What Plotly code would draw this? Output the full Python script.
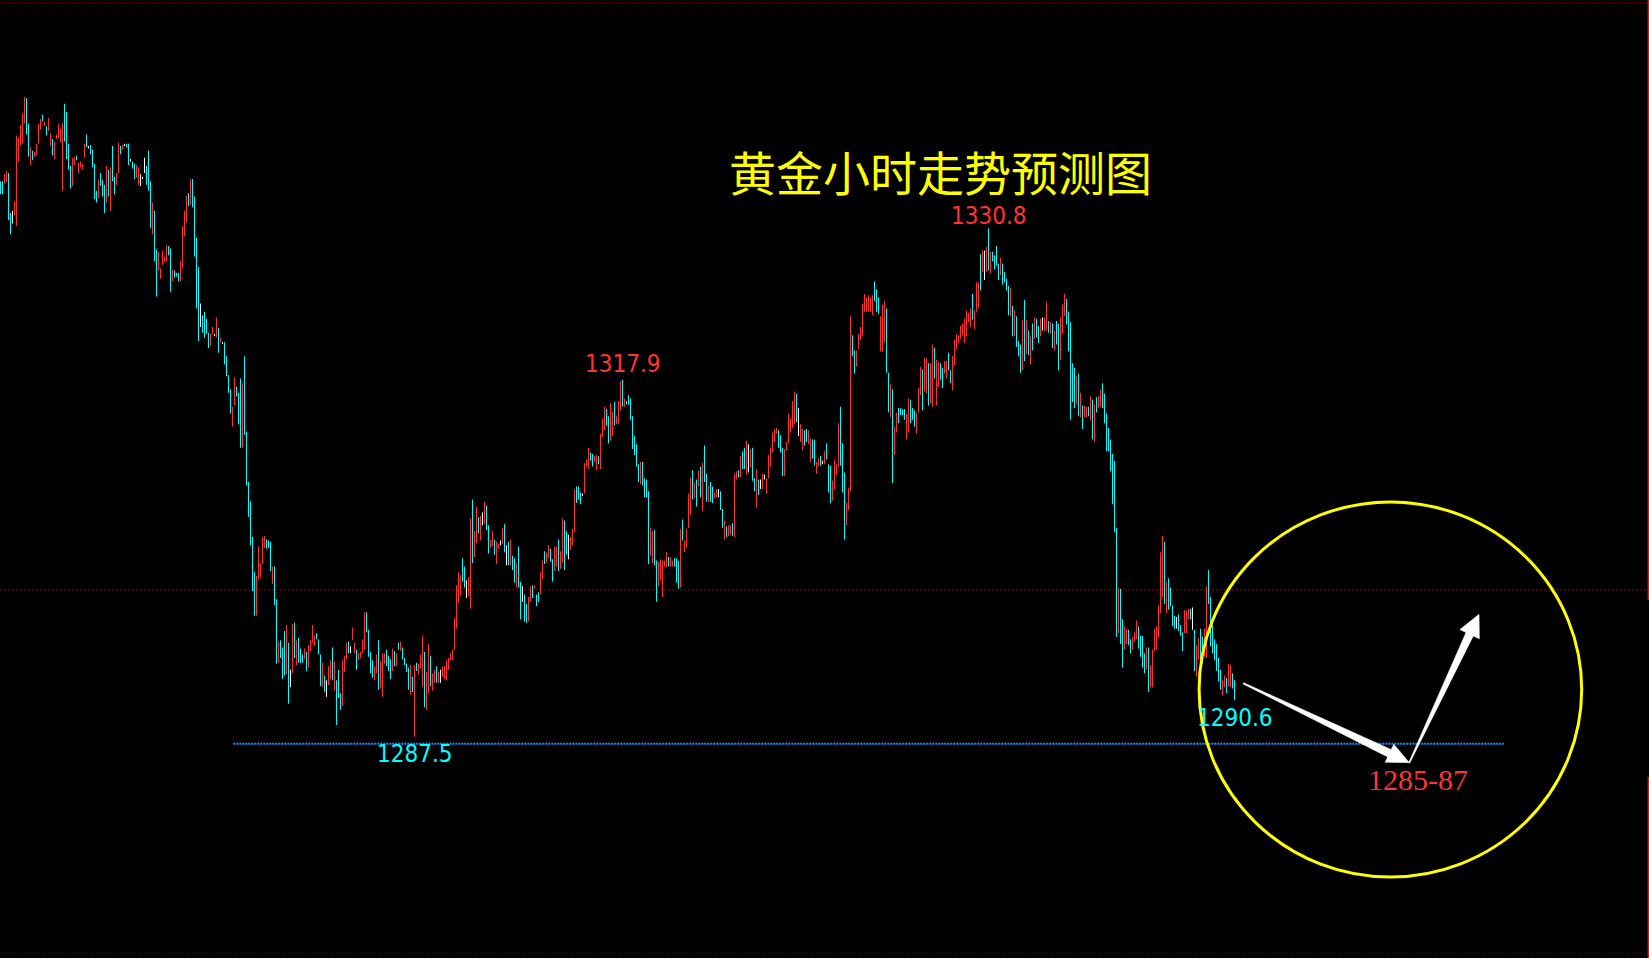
import plotly.graph_objects as go

# ---------------- data (gold, hourly bars; high / low / direction) ----------------
highs = [
    1334.8, 1334.8, 1335.4, 1335.7, 1335.5, 1332.1, 1332.3, 1333.1, 1338.7, 1338.5,
    1339.6, 1340.6, 1342.0, 1341.9, 1339.7, 1337.7, 1337.4, 1337.3, 1338.0, 1339.7,
    1340.1, 1340.5, 1339.9, 1339.5, 1340.2, 1338.9, 1338.4, 1338.2, 1338.8, 1339.7,
    1339.3, 1339.8, 1341.4, 1340.7, 1338.0, 1336.1, 1336.8, 1336.9, 1337.0, 1336.4,
    1336.5, 1336.3, 1338.0, 1338.8, 1337.8, 1337.9, 1337.5, 1336.3, 1334.0, 1335.0,
    1335.5, 1334.9, 1334.5, 1336.1, 1335.8, 1336.0, 1337.8, 1335.2, 1335.5, 1338.1,
    1337.8, 1337.9, 1338.0, 1338.0, 1338.0, 1336.7, 1336.5, 1336.3, 1336.2, 1336.0,
    1335.4, 1335.2, 1336.8, 1336.1, 1337.4, 1334.8, 1333.0, 1332.3, 1329.0, 1328.8,
    1327.4, 1328.9, 1328.4, 1329.4, 1329.3, 1329.1, 1327.3, 1327.2, 1327.0, 1327.0,
    1328.0, 1331.0, 1332.3, 1333.6, 1333.8, 1335.0, 1335.0, 1333.5, 1330.0, 1327.5,
    1324.4, 1323.4, 1323.7, 1323.1, 1321.9, 1321.8, 1322.4, 1321.8, 1323.2, 1322.3,
    1321.5, 1321.1, 1321.1, 1319.9, 1318.3, 1317.1, 1315.6, 1318.1, 1317.3, 1316.8,
    1318.0, 1317.6, 1319.9, 1313.5, 1309.2, 1307.5, 1304.5, 1301.5, 1301.2, 1303.7,
    1302.3, 1304.5, 1304.6, 1304.3, 1304.2, 1304.1, 1302.0, 1302.0, 1299.2, 1295.6,
    1295.7, 1295.1, 1296.5, 1297.0, 1295.5, 1293.2, 1297.1, 1297.2, 1295.7, 1295.9,
    1295.0, 1294.5, 1295.0, 1294.7, 1295.3, 1295.7, 1297.0, 1296.1, 1296.3, 1295.8,
    1294.5, 1293.8, 1292.7, 1292.3, 1293.5, 1294.0, 1295.1, 1293.9, 1292.3, 1293.2,
    1291.2, 1294.0, 1294.4, 1295.5, 1295.6, 1295.2, 1296.8, 1295.5, 1294.9, 1294.6,
    1294.7, 1295.8, 1298.1, 1298.1, 1296.6, 1294.7, 1294.0, 1293.5, 1294.5, 1295.7,
    1293.9, 1294.6, 1294.6, 1294.9, 1294.4, 1294.1, 1295.0, 1294.8, 1294.6, 1295.5,
    1295.6, 1295.1, 1294.2, 1293.7, 1293.4, 1293.6, 1292.6, 1293.6, 1293.8, 1293.7,
    1294.5, 1296.1, 1294.7, 1293.0, 1295.4, 1294.4, 1292.9, 1293.2, 1293.5, 1293.0,
    1293.2, 1293.5, 1293.5, 1294.0, 1294.2, 1294.6, 1294.9, 1297.6, 1300.4, 1301.5,
    1301.3, 1302.7, 1302.0, 1300.8, 1301.1, 1306.1, 1307.7, 1305.0, 1307.1, 1306.2,
    1306.3, 1306.6, 1307.5, 1307.2, 1305.5, 1304.3, 1305.0, 1304.3, 1304.1, 1303.9,
    1304.2, 1305.3, 1305.6, 1303.8, 1304.1, 1304.3, 1302.9, 1302.7, 1302.3, 1303.7,
    1300.7, 1300.3, 1299.6, 1298.8, 1299.4, 1300.3, 1300.4, 1300.4, 1299.6, 1299.8,
    1301.5, 1302.5, 1303.3, 1303.2, 1303.8, 1303.5, 1302.6, 1303.7, 1303.7, 1304.3,
    1303.3, 1306.1, 1305.9, 1305.0, 1304.7, 1304.5, 1305.2, 1308.6, 1308.8, 1308.8,
    1308.3, 1308.2, 1310.8, 1311.1, 1312.1, 1311.7, 1311.6, 1311.4, 1311.5, 1311.4,
    1313.3, 1314.6, 1315.6, 1315.4, 1314.8, 1315.9, 1315.2, 1316.0, 1314.8, 1316.1,
    1317.8, 1317.9, 1316.3, 1316.1, 1316.6, 1316.3, 1314.8, 1313.1, 1312.4, 1310.7,
    1310.9, 1310.9, 1309.5, 1309.4, 1308.4, 1305.3, 1305.0, 1305.1, 1302.5, 1302.4,
    1302.6, 1302.5, 1302.5, 1303.2, 1302.8, 1302.8, 1302.5, 1302.7, 1302.7, 1302.5,
    1305.2, 1306.0, 1304.2, 1305.2, 1308.2, 1309.6, 1310.2, 1309.1, 1309.4, 1310.2,
    1310.5, 1310.8, 1312.3, 1309.9, 1308.9, 1309.2, 1308.8, 1308.3, 1308.6, 1308.6,
    1308.4, 1306.9, 1305.9, 1305.4, 1305.5, 1305.5, 1305.7, 1309.9, 1310.1, 1310.2,
    1311.4, 1311.8, 1312.1, 1312.7, 1312.4, 1312.0, 1312.1, 1309.5, 1310.3, 1309.4,
    1309.4, 1309.9, 1309.8, 1309.5, 1311.5, 1312.1, 1313.4, 1313.7, 1313.8, 1313.6,
    1313.2, 1312.1, 1312.0, 1312.6, 1315.0, 1314.6, 1316.1, 1316.9, 1316.7, 1315.5,
    1314.1, 1313.7, 1313.6, 1313.7, 1313.6, 1312.9, 1312.8, 1312.8, 1310.9, 1311.2,
    1311.4, 1311.0, 1311.8, 1312.5, 1310.7, 1310.6, 1309.3, 1311.1, 1310.7, 1314.2,
    1315.6, 1312.5, 1310.0, 1307.4, 1308.7, 1323.3, 1321.7, 1320.4, 1320.4, 1321.8,
    1322.4, 1324.4, 1325.2, 1324.9, 1325.1, 1324.9, 1325.1, 1326.3, 1325.6, 1324.9,
    1323.3, 1324.3, 1324.6, 1324.0, 1318.5, 1317.5, 1317.1, 1313.9, 1315.1, 1315.5,
    1315.5, 1315.4, 1315.4, 1315.0, 1316.3, 1316.2, 1315.5, 1315.3, 1315.1, 1317.2,
    1319.0, 1318.8, 1319.8, 1319.7, 1319.3, 1319.3, 1320.9, 1320.6, 1319.6, 1319.4,
    1319.3, 1318.9, 1319.5, 1319.5, 1320.2, 1318.7, 1319.9, 1321.3, 1321.8, 1321.7,
    1322.5, 1322.7, 1323.1, 1323.8, 1323.6, 1324.0, 1325.2, 1323.8, 1326.2, 1326.2,
    1328.6, 1328.9, 1328.9, 1329.2, 1330.8, 1328.8, 1328.8, 1328.5, 1329.3, 1327.8,
    1328.3, 1327.8, 1327.1, 1326.5, 1325.9, 1325.7, 1324.2, 1323.8, 1323.3, 1321.2,
    1320.9, 1323.0, 1324.7, 1323.0, 1322.1, 1321.6, 1322.7, 1323.2, 1323.1, 1322.5,
    1323.1, 1323.2, 1323.2, 1324.5, 1322.9, 1322.8, 1322.7, 1322.1, 1322.9, 1322.7,
    1323.2, 1324.3, 1325.2, 1324.8, 1323.7, 1322.8, 1319.3, 1318.9, 1318.2, 1318.4,
    1316.8, 1315.7, 1315.7, 1315.6, 1315.6, 1316.5, 1316.2, 1315.8, 1316.4, 1316.5,
    1317.1, 1317.6, 1316.7, 1315.0, 1313.8, 1312.8, 1311.6, 1311.0, 1305.3, 1300.2,
    1300.1, 1297.5, 1296.9, 1296.7, 1296.6, 1295.8, 1296.0, 1296.4, 1297.4, 1296.9,
    1296.1, 1296.1, 1294.6, 1295.1, 1295.1, 1293.6, 1294.9, 1296.7, 1296.9, 1298.7,
    1303.2, 1304.6, 1304.1, 1300.7, 1301.0, 1300.2, 1298.7, 1297.8, 1297.7, 1297.9,
    1297.0, 1296.4, 1298.3, 1298.2, 1298.4, 1298.4, 1298.5, 1296.6, 1295.3, 1295.9,
    1296.7, 1296.0, 1296.7, 1300.3, 1301.7, 1299.4, 1297.0, 1295.8, 1295.4, 1294.2,
    1293.2, 1292.3, 1292.7, 1292.5, 1293.7, 1293.6, 1292.9, 1292.3,
]

lows = [
    1333.7, 1333.7, 1334.6, 1334.7, 1331.5, 1330.3, 1331.2, 1331.9, 1331.0, 1336.5,
    1337.8, 1338.0, 1339.7, 1338.8, 1336.9, 1336.2, 1336.6, 1336.9, 1337.0, 1338.0,
    1339.2, 1339.9, 1339.5, 1338.7, 1339.1, 1337.8, 1337.0, 1336.7, 1338.4, 1338.5,
    1338.1, 1334.0, 1338.2, 1336.7, 1335.8, 1334.2, 1334.4, 1336.2, 1336.6, 1335.5,
    1336.0, 1335.8, 1336.8, 1337.7, 1337.6, 1337.1, 1336.0, 1333.3, 1333.0, 1333.4,
    1334.4, 1333.5, 1332.1, 1333.0, 1333.5, 1332.3, 1334.8, 1333.7, 1334.5, 1335.5,
    1337.1, 1337.5, 1337.8, 1337.7, 1336.2, 1336.5, 1335.9, 1335.0, 1335.1, 1334.5,
    1334.4, 1335.0, 1335.5, 1334.5, 1334.0, 1330.8, 1330.3, 1328.0, 1325.0, 1327.2,
    1326.5, 1327.7, 1327.9, 1328.0, 1328.5, 1325.4, 1326.3, 1326.6, 1326.7, 1326.3,
    1326.3, 1327.4, 1330.1, 1331.3, 1332.7, 1332.8, 1332.6, 1328.4, 1324.0, 1321.2,
    1322.4, 1321.9, 1321.5, 1321.8, 1320.6, 1320.8, 1321.8, 1321.6, 1321.5, 1320.2,
    1321.1, 1321.0, 1319.2, 1318.2, 1316.8, 1315.0, 1313.9, 1315.7, 1316.5, 1314.1,
    1312.1, 1312.1, 1313.2, 1308.9, 1306.2, 1303.8, 1299.9, 1297.8, 1297.8, 1300.9,
    1301.1, 1302.2, 1303.6, 1303.5, 1303.6, 1301.6, 1300.5, 1298.7, 1293.7, 1293.8,
    1294.2, 1292.4, 1292.7, 1292.8, 1290.3, 1291.7, 1292.9, 1294.2, 1293.6, 1293.8,
    1293.8, 1293.8, 1294.1, 1293.1, 1293.4, 1294.8, 1295.5, 1295.2, 1295.8, 1294.5,
    1291.8, 1291.7, 1291.3, 1290.9, 1291.9, 1292.4, 1292.3, 1291.4, 1288.5, 1290.8,
    1289.8, 1290.1, 1293.0, 1294.1, 1294.6, 1294.6, 1295.7, 1294.6, 1293.2, 1294.0,
    1294.2, 1294.6, 1294.9, 1296.4, 1294.3, 1292.9, 1292.5, 1292.3, 1292.9, 1291.5,
    1291.6, 1290.9, 1293.7, 1293.5, 1293.1, 1292.4, 1293.1, 1293.5, 1293.5, 1294.9,
    1294.8, 1294.1, 1293.6, 1293.0, 1291.5, 1291.1, 1291.3, 1287.5, 1293.1, 1292.8,
    1293.3, 1291.7, 1290.0, 1289.8, 1291.2, 1291.8, 1291.4, 1292.1, 1292.1, 1292.1,
    1292.1, 1292.6, 1292.4, 1292.3, 1293.2, 1294.0, 1294.0, 1294.9, 1296.7, 1298.9,
    1299.5, 1300.7, 1300.2, 1299.3, 1299.5, 1298.4, 1302.3, 1302.8, 1304.0, 1304.8,
    1304.2, 1305.5, 1305.6, 1305.1, 1303.1, 1303.6, 1303.7, 1303.0, 1302.2, 1303.5,
    1303.8, 1303.9, 1303.2, 1302.1, 1302.1, 1302.1, 1301.7, 1300.6, 1300.2, 1300.2,
    1297.5, 1299.0, 1297.3, 1297.2, 1297.3, 1299.0, 1299.3, 1300.1, 1298.6, 1299.0,
    1299.6, 1300.9, 1302.2, 1302.3, 1302.7, 1302.4, 1300.7, 1301.6, 1302.0, 1301.6,
    1301.8, 1302.3, 1301.7, 1303.0, 1302.6, 1303.4, 1303.8, 1304.9, 1307.4, 1307.7,
    1307.3, 1308.0, 1308.2, 1310.5, 1310.3, 1311.0, 1310.5, 1310.9, 1310.2, 1310.7,
    1310.3, 1313.0, 1313.6, 1314.0, 1312.5, 1312.7, 1313.1, 1314.0, 1314.1, 1314.1,
    1315.3, 1315.6, 1315.6, 1315.8, 1315.8, 1314.5, 1312.0, 1311.5, 1310.5, 1309.2,
    1309.0, 1308.9, 1307.9, 1307.9, 1302.2, 1302.9, 1302.3, 1302.1, 1299.0, 1300.3,
    1300.8, 1299.4, 1302.0, 1301.9, 1302.0, 1302.0, 1302.0, 1302.0, 1300.6, 1300.1,
    1300.2, 1304.2, 1303.2, 1303.6, 1305.3, 1306.4, 1307.7, 1307.8, 1307.1, 1308.8,
    1307.9, 1306.7, 1309.2, 1307.5, 1307.5, 1307.5, 1307.4, 1307.8, 1307.9, 1307.9,
    1306.8, 1305.3, 1304.3, 1304.5, 1304.6, 1304.7, 1304.6, 1304.5, 1309.4, 1309.6,
    1309.6, 1310.3, 1310.3, 1309.8, 1310.0, 1310.4, 1309.3, 1308.4, 1307.0, 1308.1,
    1308.6, 1308.6, 1309.4, 1308.2, 1309.5, 1310.5, 1311.7, 1312.6, 1313.3, 1312.1,
    1311.7, 1309.7, 1309.7, 1311.9, 1312.5, 1313.4, 1313.8, 1314.1, 1314.3, 1313.1,
    1312.6, 1311.9, 1312.3, 1312.6, 1312.4, 1310.9, 1311.2, 1310.6, 1309.9, 1310.5,
    1310.6, 1310.7, 1310.7, 1311.1, 1308.3, 1307.4, 1307.6, 1308.6, 1309.8, 1310.5,
    1310.6, 1308.3, 1304.3, 1305.5, 1306.8, 1308.4, 1319.9, 1318.4, 1319.0, 1320.5,
    1321.3, 1321.6, 1323.7, 1323.7, 1323.7, 1323.7, 1323.4, 1324.6, 1323.7, 1323.5,
    1320.3, 1320.3, 1321.1, 1318.5, 1315.1, 1314.7, 1309.1, 1311.5, 1313.4, 1314.2,
    1314.9, 1314.9, 1314.5, 1312.8, 1313.4, 1314.2, 1314.5, 1313.9, 1313.3, 1315.1,
    1316.6, 1315.3, 1316.9, 1316.7, 1315.7, 1315.9, 1315.6, 1318.0, 1315.7, 1317.3,
    1317.9, 1317.2, 1318.4, 1318.0, 1318.7, 1317.6, 1317.0, 1319.1, 1320.5, 1321.0,
    1321.4, 1321.7, 1321.0, 1321.6, 1322.8, 1322.4, 1323.0, 1322.2, 1323.7, 1324.0,
    1325.5, 1327.1, 1326.4, 1327.1, 1327.2, 1327.0, 1328.0, 1327.3, 1327.6, 1326.4,
    1326.8, 1326.0, 1326.2, 1325.5, 1323.4, 1323.3, 1321.6, 1321.6, 1320.7, 1319.9,
    1318.5, 1318.7, 1319.5, 1320.1, 1320.0, 1319.2, 1320.4, 1321.4, 1321.5, 1321.0,
    1321.6, 1322.1, 1322.0, 1322.1, 1321.9, 1321.8, 1320.6, 1320.4, 1320.9, 1318.7,
    1319.6, 1321.8, 1323.3, 1322.6, 1320.3, 1314.5, 1316.0, 1315.5, 1315.8, 1314.8,
    1314.7, 1313.7, 1314.7, 1314.7, 1314.8, 1314.4, 1312.8, 1312.6, 1315.1, 1315.5,
    1315.6, 1315.5, 1314.2, 1311.8, 1311.8, 1310.1, 1307.3, 1304.9, 1296.0, 1296.3,
    1295.4, 1293.4, 1294.9, 1295.4, 1295.3, 1294.6, 1294.9, 1295.6, 1295.8, 1295.0,
    1294.3, 1293.4, 1292.9, 1293.2, 1291.3, 1291.7, 1291.7, 1294.8, 1294.9, 1295.9,
    1298.0, 1299.4, 1298.8, 1298.0, 1298.3, 1298.6, 1296.9, 1296.7, 1296.7, 1296.5,
    1296.1, 1294.8, 1296.3, 1296.3, 1297.5, 1297.5, 1296.6, 1293.1, 1292.6, 1294.1,
    1294.1, 1293.7, 1294.3, 1294.2, 1298.8, 1295.2, 1294.6, 1294.0, 1293.1, 1292.2,
    1291.5, 1291.0, 1291.7, 1291.2, 1291.8, 1291.7, 1291.6, 1290.6,
]

# r = up bar (red), c = down bar (cyan), w = unchanged (white); 10 bars per chunk
direction_chunks = [
    "ccrrccwrrr", "rrrccrcrrr", "rcrcrrcrrr", "rrccccrrcr", "rrrcwccccr",
    "cccrcrccrr", "crwccwccrr", "wwwcccrccr", "rrrrccrccc", "rrrrcrcccc",
    "wccccrrwrc", "rwccccrrcc", "crccccccrr", "rrrcccrccr", "cccrcwrcrc",
    "ccrcrrrrcc", "crcwrrcrcc", "crrrcwrrcr", "rrrccccrrc", "rrrcccrcrc",
    "rccccrcrcr", "rrcrrcrrcr", "wrrrrrrrrr", "rccwrrcrrc", "rwrccrrcrr",
    "wrcwcrccrc", "cwccrrcrcc", "rrcrrccrrc", "rrccwrrrcc", "cwrrrccrrc",
    "rrrccrrcrr", "rcrccccccc", "rccccrrccr", "rrrrcrrccc", "rcrrrrcrcr",
    "crccrccrrw", "ccrcrrcrrc", "rccrwrccrc", "wrwrrrrrrc", "ccrrrrrrcw",
    "rrccrrccrr", "cwrcccrrrr", "cccrrrccrr", "rrrrrrrccc", "rrrccrcrrc",
    "cccrrcccrr", "rcrrcrrcrr", "ccrrccrrrr", "rrrrrrcrrr", "crwrcrcccc",
    "rccccrcrcc", "crcrcrcrcc", "rwrrcrcrcc", "rrrcccccrc", "rcrrcrcrcr",
    "rccccccccr", "ccrrccrrrc", "cccrcrrrrr", "rrcrccccwc", "ccrrrcwcrr",
    "ccrrcccccc", "crrcrrcc",
]
directions = "".join(direction_chunks)

# bars that carry a price label
peak_idx = 494      # 1330.8
mid_peak_idx = 311  # 1317.9
low_idx = 207       # 1287.5
last_idx = 617      # 1290.6

labels_red = "#ff3333"
labels_cyan = "#00ffff"
bar_colors = {"r": "#ff3030", "c": "#00ffff", "w": "#ffffff"}

title_text = "黄金小时走势预测图"
target_text = "1285-87"
support_level = 1286.9

# ---------------- geometry of the canvas ----------------
W, H = 1649, 958
X_RANGE = [-0.25, 824.25]
Y_RANGE = [1268.645, 1350.246]


def pxx(v):
    return v / W


def pxy(v):
    return 1 - v / H


n = len(highs)
assert len(lows) == n and len(directions) == n, (len(highs), len(lows), len(directions))
idx = list(range(n))

fig = go.Figure()
fig.add_trace(go.Bar(
    x=idx,
    y=[round(h - l, 2) for h, l in zip(highs, lows)],
    base=lows,
    width=0.5,
    marker=dict(color=[bar_colors[d] for d in directions], line=dict(width=0)),
    hoverinfo="skip",
))

shapes = []
# grid levels (dark red dashed)
for lvl in (1300, 1350):
    shapes.append(dict(type="line", xref="paper", yref="y", x0=0, x1=0.9988, y0=lvl, y1=lvl,
                       line=dict(color="#a00000", width=1, dash="2px,2px"), layer="below"))
# bottom border dotted
shapes.append(dict(type="line", xref="paper", yref="paper", x0=0, x1=1, y0=pxy(953.3), y1=pxy(953.3),
                   line=dict(color="#a00000", width=1, dash="1px,2px")))
# right border
for a, b in ((0, 600), (777, 958)):
    shapes.append(dict(type="line", xref="paper", yref="paper", x0=pxx(1648.3), x1=pxx(1648.3),
                       y0=pxy(a), y1=pxy(b), line=dict(color="#d01818", width=1.5)))
# support line (blue dotted)
shapes.append(dict(type="line", xref="x", yref="y", x0=116.4, x1=751.75, y0=support_level, y1=support_level,
                   line=dict(color="#1e90ff", width=2, dash="2px,1px")))
# yellow circle
shapes.append(dict(type="circle", xref="paper", yref="paper",
                   x0=pxx(1390.4 - 191.3), x1=pxx(1390.4 + 191.3),
                   y0=pxy(689.5 + 187.5), y1=pxy(689.5 - 187.5),
                   line=dict(color="#ffff00", width=3)))


def poly(points):
    s = "M " + " L ".join(f"{pxx(x):.5f},{pxy(y):.5f}" for x, y in points) + " Z"
    return dict(type="path", xref="paper", yref="paper", path=s,
                fillcolor="#ffffff", line=dict(color="#ffffff", width=0.5))


arrow_down = [(1243.0, 683.9), (1387.7, 756.9), (1385.1, 762.2), (1409.3, 762.7),
              (1393.8, 744.2), (1391.2, 749.6), (1243.6, 682.7)]
arrow_up = [(1409.8, 763.0), (1473.3, 635.9), (1479.4, 638.8), (1479.0, 614.3),
            (1459.9, 629.6), (1466.0, 632.5), (1408.8, 762.4)]
shapes.append(poly(arrow_down))
shapes.append(poly(arrow_up))

num_font = "DejaVu Sans Condensed, Liberation Sans, sans-serif"


def price_label(i, value, shift, color):
    return dict(x=i, y=value, text=f"{value:.1f}", showarrow=False, yshift=shift,
                xanchor="center", yanchor="middle",
                font=dict(family=num_font, size=24, color=color))


annotations = [
    dict(xref="paper", yref="paper", x=pxx(940), y=pxy(175.0), text=title_text, showarrow=False,
         xanchor="center", yanchor="middle",
         font=dict(family="Liberation Sans, Noto Sans CJK SC", size=47, color="#ffff00")),
    price_label(peak_idx, highs[peak_idx], 12, labels_red),
    price_label(mid_peak_idx, highs[mid_peak_idx], 16, labels_red),
    price_label(low_idx, lows[low_idx], -17.5, labels_cyan),
    price_label(last_idx, lows[last_idx], -18, labels_cyan),
    dict(xref="paper", yref="paper", x=pxx(1418.3), y=pxy(779.3), text=target_text, showarrow=False,
         xanchor="center", yanchor="middle",
         font=dict(family="Liberation Serif, serif", size=30, color=labels_red)),
]

fig.update_layout(
    width=W, height=H,
    margin=dict(l=0, r=0, t=0, b=0, pad=0),
    paper_bgcolor="#000000", plot_bgcolor="#000000",
    showlegend=False,
    xaxis=dict(visible=False, range=X_RANGE, fixedrange=True),
    yaxis=dict(visible=False, range=Y_RANGE, fixedrange=True),
    shapes=shapes,
    annotations=annotations,
)

fig.write_html(
    "out.html",
    config={"displayModeBar": False},
    post_script="document.body.style.margin='0';document.body.style.background='#000';"
                "document.body.style.overflow='hidden';",
)
